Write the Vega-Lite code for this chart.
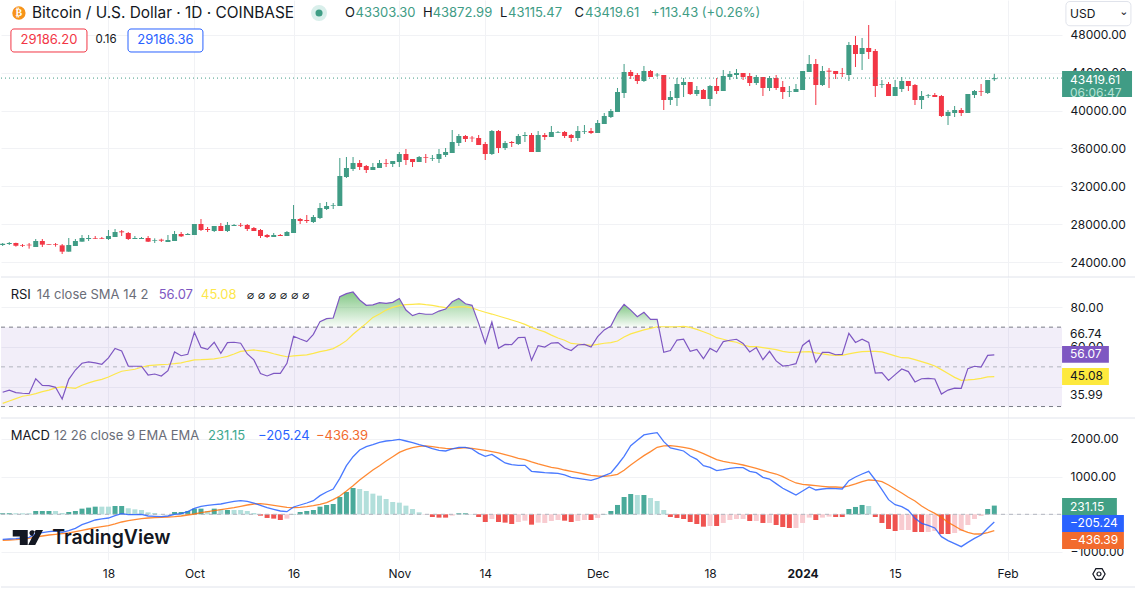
{"$schema":"https://vega.github.io/schema/vega-lite/v6.json","padding":0,"background":"white","spacing":0,"config":{"view":{"stroke":null},"font":"Inter","concat":{"spacing":0}},
"datasets":{"days":[
{"d":"2023-09-02","o":25809,"h":26021,"l":25704,"c":25950,"rsi":37.2,"sma":31.6,"macd":-664,"sig":-691,"hist":27,"tone":"u"},
{"d":"2023-09-03","o":25915,"h":26126,"l":25809,"c":26021,"rsi":38.3,"sma":32.8,"macd":-655,"sig":-682,"hist":27,"tone":"u"},
{"d":"2023-09-04","o":26021,"h":26056,"l":25634,"c":25739,"rsi":37.0,"sma":34.0,"macd":-647,"sig":-673,"hist":27,"tone":"ul"},
{"d":"2023-09-05","o":25809,"h":25915,"l":25598,"c":25739,"rsi":36.7,"sma":35.2,"macd":-629,"sig":-655,"hist":27,"tone":"ul"},
{"d":"2023-09-06","o":25845,"h":26021,"l":25423,"c":25774,"rsi":36.5,"sma":35.7,"macd":-611,"sig":-638,"hist":27,"tone":"ul"},
{"d":"2023-09-07","o":25598,"h":26443,"l":25598,"c":26232,"rsi":44.0,"sma":36.5,"macd":-514,"sig":-602,"hist":88,"tone":"u"},
{"d":"2023-09-08","o":26232,"h":26443,"l":25598,"c":25845,"rsi":40.7,"sma":37.5,"macd":-487,"sig":-576,"hist":88,"tone":"u"},
{"d":"2023-09-09","o":25915,"h":25915,"l":25845,"c":25845,"rsi":40.5,"sma":38.3,"macd":-461,"sig":-549,"hist":88,"tone":"u"},
{"d":"2023-09-10","o":25880,"h":26021,"l":25634,"c":25809,"rsi":39.7,"sma":39.4,"macd":-443,"sig":-531,"hist":88,"tone":"ul"},
{"d":"2023-09-11","o":25774,"h":25915,"l":24860,"c":25106,"rsi":33.8,"sma":39.9,"macd":-478,"sig":-514,"hist":35,"tone":"ul"},
{"d":"2023-09-12","o":25106,"h":26548,"l":25106,"c":25809,"rsi":43.7,"sma":39.5,"macd":-434,"sig":-496,"hist":62,"tone":"u"},
{"d":"2023-09-13","o":25704,"h":26443,"l":25704,"c":26232,"rsi":48.4,"sma":39.2,"macd":-372,"sig":-461,"hist":88,"tone":"u"},
{"d":"2023-09-14","o":26161,"h":26865,"l":26161,"c":26548,"rsi":51.8,"sma":40.7,"macd":-275,"sig":-425,"hist":150,"tone":"u"},
{"d":"2023-09-15","o":26443,"h":26865,"l":26232,"c":26548,"rsi":52.5,"sma":41.9,"macd":-213,"sig":-390,"hist":177,"tone":"u"},
{"d":"2023-09-16","o":26548,"h":26759,"l":26443,"c":26478,"rsi":52.0,"sma":42.9,"macd":-151,"sig":-354,"hist":203,"tone":"u"},
{"d":"2023-09-17","o":26548,"h":26654,"l":26443,"c":26478,"rsi":51.3,"sma":43.7,"macd":-124,"sig":-328,"hist":203,"tone":"ul"},
{"d":"2023-09-18","o":26443,"h":27392,"l":26337,"c":26759,"rsi":54.5,"sma":44.9,"macd":-98,"sig":-301,"hist":203,"tone":"ul"},
{"d":"2023-09-19","o":26654,"h":27498,"l":26654,"c":27181,"rsi":59.3,"sma":46.4,"macd":-36,"sig":-257,"hist":221,"tone":"u"},
{"d":"2023-09-20","o":27252,"h":27392,"l":26759,"c":27146,"rsi":58.0,"sma":47.8,"macd":17,"sig":-204,"hist":221,"tone":"u"},
{"d":"2023-09-21","o":27076,"h":27181,"l":26337,"c":26443,"rsi":50.4,"sma":48.3,"macd":-9,"sig":-169,"hist":159,"tone":"ul"},
{"d":"2023-09-22","o":26443,"h":26759,"l":26443,"c":26548,"rsi":50.3,"sma":48.8,"macd":-9,"sig":-142,"hist":132,"tone":"ul"},
{"d":"2023-09-23","o":26443,"h":26654,"l":26443,"c":26548,"rsi":50.3,"sma":49.8,"macd":0,"sig":-116,"hist":115,"tone":"ul"},
{"d":"2023-09-24","o":26548,"h":26759,"l":26126,"c":26161,"rsi":45.9,"sma":50.6,"macd":-45,"sig":-98,"hist":53,"tone":"ul"},
{"d":"2023-09-25","o":26267,"h":26513,"l":26021,"c":26337,"rsi":46.4,"sma":50.9,"macd":-54,"sig":-89,"hist":35,"tone":"ul"},
{"d":"2023-09-26","o":26372,"h":26478,"l":26126,"c":26267,"rsi":45.4,"sma":51.1,"macd":-62,"sig":-80,"hist":5,"tone":"ul"},
{"d":"2023-09-27","o":26126,"h":26865,"l":26126,"c":26337,"rsi":48.1,"sma":51.3,"macd":-45,"sig":-71,"hist":5,"tone":"ul"},
{"d":"2023-09-28","o":26232,"h":27287,"l":26232,"c":26970,"rsi":57.5,"sma":51.6,"macd":0,"sig":-62,"hist":62,"tone":"u"},
{"d":"2023-09-29","o":26970,"h":27181,"l":26654,"c":26724,"rsi":55.6,"sma":52.0,"macd":17,"sig":-45,"hist":62,"tone":"u"},
{"d":"2023-09-30","o":26865,"h":27076,"l":26865,"c":26970,"rsi":56.3,"sma":52.8,"macd":70,"sig":-18,"hist":88,"tone":"u"},
{"d":"2023-10-01","o":26865,"h":28025,"l":26865,"c":28025,"rsi":67.4,"sma":53.5,"macd":159,"sig":8,"hist":150,"tone":"u"},
{"d":"2023-10-02","o":28025,"h":28553,"l":27287,"c":27392,"rsi":59.8,"sma":53.6,"macd":212,"sig":44,"hist":150,"tone":"u"},
{"d":"2023-10-03","o":27498,"h":27709,"l":27181,"c":27392,"rsi":58.8,"sma":53.8,"macd":238,"sig":70,"hist":88,"tone":"ul"},
{"d":"2023-10-04","o":27287,"h":27814,"l":27181,"c":27814,"rsi":62.4,"sma":54.0,"macd":256,"sig":97,"hist":150,"tone":"u"},
{"d":"2023-10-05","o":27814,"h":28131,"l":27287,"c":27287,"rsi":56.8,"sma":54.6,"macd":274,"sig":123,"hist":132,"tone":"ul"},
{"d":"2023-10-06","o":27287,"h":28236,"l":27181,"c":27920,"rsi":62.2,"sma":55.3,"macd":309,"sig":150,"hist":115,"tone":"u"},
{"d":"2023-10-07","o":27814,"h":28025,"l":27814,"c":27920,"rsi":62.4,"sma":56.5,"macd":345,"sig":177,"hist":115,"tone":"ul"},
{"d":"2023-10-08","o":27920,"h":28131,"l":27709,"c":27849,"rsi":61.9,"sma":57.8,"macd":362,"sig":212,"hist":115,"tone":"ul"},
{"d":"2023-10-09","o":27920,"h":28025,"l":27287,"c":27498,"rsi":56.5,"sma":58.2,"macd":345,"sig":247,"hist":88,"tone":"ul"},
{"d":"2023-10-10","o":27603,"h":27709,"l":27287,"c":27287,"rsi":53.5,"sma":58.5,"macd":300,"sig":274,"hist":35,"tone":"ul"},
{"d":"2023-10-11","o":27392,"h":27498,"l":26548,"c":26759,"rsi":46.6,"sma":58.0,"macd":238,"sig":283,"hist":-36,"tone":"d"},
{"d":"2023-10-12","o":26865,"h":26970,"l":26548,"c":26654,"rsi":45.4,"sma":57.5,"macd":177,"sig":265,"hist":-97,"tone":"d"},
{"d":"2023-10-13","o":26654,"h":27076,"l":26654,"c":26865,"rsi":46.7,"sma":56.6,"macd":132,"sig":238,"hist":-115,"tone":"d"},
{"d":"2023-10-14","o":26865,"h":26970,"l":26759,"c":26759,"rsi":46.7,"sma":55.8,"macd":88,"sig":212,"hist":-151,"tone":"d"},
{"d":"2023-10-15","o":26759,"h":27287,"l":26759,"c":27181,"rsi":51.8,"sma":55.1,"macd":70,"sig":185,"hist":-115,"tone":"dl"},
{"d":"2023-10-16","o":27076,"h":30030,"l":27076,"c":28553,"rsi":65.4,"sma":55.5,"macd":194,"sig":177,"hist":9,"tone":"u"},
{"d":"2023-10-17","o":28553,"h":28658,"l":28025,"c":28342,"rsi":64.0,"sma":55.8,"macd":247,"sig":185,"hist":62,"tone":"u"},
{"d":"2023-10-18","o":28447,"h":28975,"l":28131,"c":28342,"rsi":62.7,"sma":56.0,"macd":300,"sig":203,"hist":88,"tone":"u"},
{"d":"2023-10-19","o":28236,"h":28975,"l":28131,"c":28764,"rsi":66.4,"sma":56.8,"macd":362,"sig":230,"hist":115,"tone":"u"},
{"d":"2023-10-20","o":28658,"h":30241,"l":28553,"c":29713,"rsi":72.8,"sma":57.7,"macd":495,"sig":265,"hist":203,"tone":"u"},
{"d":"2023-10-21","o":29608,"h":30346,"l":29502,"c":29924,"rsi":74.3,"sma":58.3,"macd":592,"sig":309,"hist":247,"tone":"u"},
{"d":"2023-10-22","o":29960,"h":30241,"l":29608,"c":30030,"rsi":74.6,"sma":59.2,"macd":672,"sig":389,"hist":274,"tone":"u"},
{"d":"2023-10-23","o":29924,"h":34989,"l":29924,"c":33090,"rsi":85.4,"sma":61.0,"macd":955,"sig":486,"hist":460,"tone":"u"},
{"d":"2023-10-24","o":32984,"h":35094,"l":32879,"c":33934,"rsi":86.9,"sma":63.2,"macd":1291,"sig":619,"hist":592,"tone":"u"},
{"d":"2023-10-25","o":33827,"h":35094,"l":33617,"c":34461,"rsi":87.7,"sma":66.4,"macd":1530,"sig":760,"hist":699,"tone":"u"},
{"d":"2023-10-26","o":34461,"h":34777,"l":33722,"c":34039,"rsi":83.7,"sma":69.2,"macd":1707,"sig":911,"hist":672,"tone":"ul"},
{"d":"2023-10-27","o":34144,"h":34250,"l":33405,"c":33722,"rsi":81.0,"sma":71.9,"macd":1796,"sig":1044,"hist":619,"tone":"ul"},
{"d":"2023-10-28","o":33722,"h":34461,"l":33722,"c":34039,"rsi":81.2,"sma":74.9,"macd":1849,"sig":1176,"hist":548,"tone":"ul"},
{"d":"2023-10-29","o":33933,"h":34777,"l":33933,"c":34461,"rsi":82.3,"sma":76.6,"macd":1911,"sig":1291,"hist":495,"tone":"ul"},
{"d":"2023-10-30","o":34461,"h":34883,"l":34039,"c":34390,"rsi":82.0,"sma":78.6,"macd":1946,"sig":1415,"hist":407,"tone":"ul"},
{"d":"2023-10-31","o":34355,"h":34672,"l":34039,"c":34672,"rsi":82.5,"sma":80.0,"macd":1964,"sig":1530,"hist":327,"tone":"ul"},
{"d":"2023-11-01","o":34566,"h":35621,"l":34039,"c":35410,"rsi":84.4,"sma":80.8,"macd":1990,"sig":1645,"hist":309,"tone":"ul"},
{"d":"2023-11-02","o":35410,"h":35938,"l":34250,"c":34777,"rsi":78.6,"sma":81.3,"macd":1946,"sig":1716,"hist":230,"tone":"ul"},
{"d":"2023-11-03","o":34883,"h":34883,"l":34039,"c":34566,"rsi":75.8,"sma":81.5,"macd":1902,"sig":1769,"hist":141,"tone":"ul"},
{"d":"2023-11-04","o":34566,"h":35199,"l":34566,"c":35094,"rsi":77.0,"sma":81.7,"macd":1849,"sig":1805,"hist":53,"tone":"ul"},
{"d":"2023-11-05","o":35094,"h":35410,"l":34461,"c":35024,"rsi":76.5,"sma":81.3,"macd":1805,"sig":1814,"hist":-9,"tone":"dl"},
{"d":"2023-11-06","o":34919,"h":35305,"l":34672,"c":34988,"rsi":76.5,"sma":81.0,"macd":1743,"sig":1796,"hist":-71,"tone":"d"},
{"d":"2023-11-07","o":34883,"h":35938,"l":34461,"c":35410,"rsi":78.1,"sma":80.3,"macd":1698,"sig":1769,"hist":-88,"tone":"d"},
{"d":"2023-11-08","o":35305,"h":36043,"l":35094,"c":35621,"rsi":79.1,"sma":79.8,"macd":1681,"sig":1752,"hist":-88,"tone":"d"},
{"d":"2023-11-09","o":35516,"h":37942,"l":35516,"c":36676,"rsi":82.8,"sma":80.0,"macd":1734,"sig":1743,"hist":-35,"tone":"dl"},
{"d":"2023-11-10","o":36571,"h":37520,"l":36254,"c":37309,"rsi":84.4,"sma":80.2,"macd":1778,"sig":1752,"hist":27,"tone":"u"},
{"d":"2023-11-11","o":37309,"h":37415,"l":36676,"c":36993,"rsi":81.8,"sma":80.2,"macd":1778,"sig":1769,"hist":27,"tone":"u"},
{"d":"2023-11-12","o":37133,"h":37309,"l":36676,"c":37063,"rsi":81.0,"sma":79.7,"macd":1734,"sig":1752,"hist":5,"tone":"ul"},
{"d":"2023-11-13","o":37098,"h":37415,"l":36360,"c":36360,"rsi":71.9,"sma":78.5,"macd":1619,"sig":1725,"hist":-71,"tone":"d"},
{"d":"2023-11-14","o":36465,"h":36676,"l":34777,"c":35410,"rsi":61.9,"sma":77.5,"macd":1539,"sig":1698,"hist":-204,"tone":"d"},
{"d":"2023-11-15","o":35410,"h":37942,"l":35305,"c":37837,"rsi":72.6,"sma":76.6,"macd":1592,"sig":1663,"hist":-124,"tone":"dl"},
{"d":"2023-11-16","o":37837,"h":37942,"l":35516,"c":36043,"rsi":59.3,"sma":75.6,"macd":1477,"sig":1628,"hist":-204,"tone":"d"},
{"d":"2023-11-17","o":36043,"h":36782,"l":35832,"c":36571,"rsi":61.3,"sma":74.6,"macd":1362,"sig":1583,"hist":-221,"tone":"d"},
{"d":"2023-11-18","o":36676,"h":36782,"l":36148,"c":36571,"rsi":61.2,"sma":73.6,"macd":1318,"sig":1539,"hist":-257,"tone":"d"},
{"d":"2023-11-19","o":36465,"h":37520,"l":36360,"c":37309,"rsi":64.7,"sma":72.6,"macd":1300,"sig":1486,"hist":-204,"tone":"dl"},
{"d":"2023-11-20","o":37309,"h":37731,"l":36676,"c":37415,"rsi":64.9,"sma":71.4,"macd":1300,"sig":1451,"hist":-169,"tone":"dl"},
{"d":"2023-11-21","o":37415,"h":37626,"l":35621,"c":35621,"rsi":53.3,"sma":69.9,"macd":1141,"sig":1389,"hist":-275,"tone":"d"},
{"d":"2023-11-22","o":35621,"h":37837,"l":35621,"c":37415,"rsi":60.7,"sma":68.7,"macd":1123,"sig":1336,"hist":-221,"tone":"dl"},
{"d":"2023-11-23","o":37415,"h":37626,"l":36887,"c":37204,"rsi":60.0,"sma":67.6,"macd":1106,"sig":1291,"hist":-230,"tone":"dl"},
{"d":"2023-11-24","o":37204,"h":38364,"l":37204,"c":37731,"rsi":62.0,"sma":66.0,"macd":1097,"sig":1247,"hist":-177,"tone":"dl"},
{"d":"2023-11-25","o":37661,"h":37837,"l":37626,"c":37731,"rsi":62.2,"sma":64.5,"macd":1088,"sig":1221,"hist":-151,"tone":"dl"},
{"d":"2023-11-26","o":37731,"h":37837,"l":37098,"c":37309,"rsi":59.5,"sma":63.4,"macd":1044,"sig":1176,"hist":-169,"tone":"d"},
{"d":"2023-11-27","o":37415,"h":37520,"l":36676,"c":37098,"rsi":58.2,"sma":61.8,"macd":982,"sig":1141,"hist":-204,"tone":"d"},
{"d":"2023-11-28","o":37098,"h":38364,"l":36782,"c":37837,"rsi":61.0,"sma":61.5,"macd":955,"sig":1106,"hist":-177,"tone":"dl"},
{"d":"2023-11-29","o":37767,"h":38470,"l":37520,"c":37837,"rsi":61.3,"sma":61.2,"macd":929,"sig":1070,"hist":-151,"tone":"dl"},
{"d":"2023-11-30","o":37837,"h":38153,"l":37520,"c":37626,"rsi":60.0,"sma":60.8,"macd":902,"sig":1035,"hist":-151,"tone":"d"},
{"d":"2023-12-01","o":37626,"h":38997,"l":37626,"c":38681,"rsi":65.2,"sma":61.3,"macd":955,"sig":1017,"hist":-97,"tone":"dl"},
{"d":"2023-12-02","o":38575,"h":39736,"l":38575,"c":39420,"rsi":68.6,"sma":61.9,"macd":1026,"sig":1008,"hist":9,"tone":"u"},
{"d":"2023-12-03","o":39314,"h":40158,"l":39208,"c":39947,"rsi":70.6,"sma":62.2,"macd":1097,"sig":1026,"hist":88,"tone":"u"},
{"d":"2023-12-04","o":39841,"h":42374,"l":39841,"c":41952,"rsi":77.1,"sma":63.0,"macd":1309,"sig":1061,"hist":248,"tone":"u"},
{"d":"2023-12-05","o":41846,"h":44906,"l":41319,"c":44062,"rsi":81.5,"sma":65.0,"macd":1539,"sig":1168,"hist":460,"tone":"u"},
{"d":"2023-12-06","o":44062,"h":44273,"l":43323,"c":43640,"rsi":78.6,"sma":66.6,"macd":1822,"sig":1309,"hist":539,"tone":"u"},
{"d":"2023-12-07","o":43745,"h":43956,"l":42796,"c":43112,"rsi":75.3,"sma":67.6,"macd":1964,"sig":1433,"hist":513,"tone":"ul"},
{"d":"2023-12-08","o":43112,"h":44695,"l":43007,"c":44167,"rsi":77.5,"sma":68.6,"macd":2106,"sig":1557,"hist":513,"tone":"u"},
{"d":"2023-12-09","o":44167,"h":44273,"l":43534,"c":43534,"rsi":73.9,"sma":69.4,"macd":2141,"sig":1663,"hist":433,"tone":"ul"},
{"d":"2023-12-10","o":43710,"h":43956,"l":43534,"c":43781,"rsi":73.9,"sma":70.2,"macd":2167,"sig":1778,"hist":354,"tone":"ul"},
{"d":"2023-12-11","o":43745,"h":43745,"l":40052,"c":41108,"rsi":57.3,"sma":70.2,"macd":1929,"sig":1814,"hist":115,"tone":"ul"},
{"d":"2023-12-12","o":41108,"h":42057,"l":40580,"c":41424,"rsi":58.2,"sma":70.1,"macd":1760,"sig":1822,"hist":-71,"tone":"d"},
{"d":"2023-12-13","o":41319,"h":43429,"l":40475,"c":42796,"rsi":63.5,"sma":70.2,"macd":1725,"sig":1805,"hist":-97,"tone":"d"},
{"d":"2023-12-14","o":42690,"h":43429,"l":41424,"c":43007,"rsi":63.9,"sma":70.4,"macd":1681,"sig":1778,"hist":-124,"tone":"d"},
{"d":"2023-12-15","o":43006,"h":43006,"l":41635,"c":41740,"rsi":57.8,"sma":69.9,"macd":1548,"sig":1743,"hist":-204,"tone":"d"},
{"d":"2023-12-16","o":41740,"h":42584,"l":41529,"c":42162,"rsi":58.8,"sma":68.9,"macd":1460,"sig":1681,"hist":-257,"tone":"d"},
{"d":"2023-12-17","o":42162,"h":42268,"l":41213,"c":41213,"rsi":54.1,"sma":67.7,"macd":1291,"sig":1610,"hist":-328,"tone":"d"},
{"d":"2023-12-18","o":41213,"h":42690,"l":40474,"c":42584,"rsi":59.3,"sma":66.4,"macd":1247,"sig":1530,"hist":-310,"tone":"dl"},
{"d":"2023-12-19","o":42584,"h":43428,"l":41740,"c":42057,"rsi":57.5,"sma":64.7,"macd":1159,"sig":1451,"hist":-310,"tone":"d"},
{"d":"2023-12-20","o":42057,"h":44273,"l":42057,"c":43639,"rsi":62.7,"sma":63.9,"macd":1185,"sig":1406,"hist":-230,"tone":"dl"},
{"d":"2023-12-21","o":43534,"h":44167,"l":43217,"c":43850,"rsi":63.4,"sma":63.0,"macd":1221,"sig":1371,"hist":-151,"tone":"dl"},
{"d":"2023-12-22","o":43745,"h":44378,"l":43323,"c":43956,"rsi":63.9,"sma":62.4,"macd":1238,"sig":1344,"hist":-124,"tone":"dl"},
{"d":"2023-12-23","o":43956,"h":43956,"l":43217,"c":43534,"rsi":61.8,"sma":61.0,"macd":1238,"sig":1309,"hist":-124,"tone":"dl"},
{"d":"2023-12-24","o":43639,"h":43956,"l":42584,"c":42901,"rsi":57.5,"sma":60.2,"macd":1141,"sig":1265,"hist":-177,"tone":"d"},
{"d":"2023-12-25","o":42901,"h":43745,"l":42690,"c":43534,"rsi":59.7,"sma":60.2,"macd":1106,"sig":1221,"hist":-177,"tone":"dl"},
{"d":"2023-12-26","o":43534,"h":43534,"l":41529,"c":42373,"rsi":53.6,"sma":59.7,"macd":982,"sig":1168,"hist":-230,"tone":"d"},
{"d":"2023-12-27","o":42373,"h":43639,"l":42057,"c":43428,"rsi":57.8,"sma":59.2,"macd":937,"sig":1114,"hist":-230,"tone":"dl"},
{"d":"2023-12-28","o":43428,"h":43745,"l":42162,"c":42373,"rsi":53.0,"sma":58.7,"macd":814,"sig":1070,"hist":-284,"tone":"d"},
{"d":"2023-12-29","o":42479,"h":43112,"l":41213,"c":41951,"rsi":50.4,"sma":57.8,"macd":690,"sig":999,"hist":-337,"tone":"d"},
{"d":"2023-12-30","o":41987,"h":42584,"l":41424,"c":42057,"rsi":50.8,"sma":57.3,"macd":601,"sig":911,"hist":-363,"tone":"d"},
{"d":"2023-12-31","o":41951,"h":42795,"l":41951,"c":42268,"rsi":51.6,"sma":57.3,"macd":513,"sig":831,"hist":-363,"tone":"dl"},
{"d":"2024-01-01","o":42162,"h":44167,"l":42162,"c":44167,"rsi":60.8,"sma":57.5,"macd":619,"sig":796,"hist":-230,"tone":"dl"},
{"d":"2024-01-02","o":44061,"h":45855,"l":44061,"c":44906,"rsi":63.4,"sma":57.7,"macd":725,"sig":778,"hist":-88,"tone":"dl"},
{"d":"2024-01-03","o":44906,"h":45433,"l":40580,"c":42690,"rsi":52.3,"sma":57.0,"macd":645,"sig":760,"hist":-151,"tone":"d"},
{"d":"2024-01-04","o":42690,"h":44695,"l":42584,"c":44167,"rsi":57.3,"sma":56.5,"macd":672,"sig":743,"hist":-88,"tone":"dl"},
{"d":"2024-01-05","o":44202,"h":44484,"l":42373,"c":44097,"rsi":57.3,"sma":56.0,"macd":690,"sig":725,"hist":-62,"tone":"dl"},
{"d":"2024-01-06","o":44167,"h":44167,"l":43323,"c":43850,"rsi":56.1,"sma":55.8,"macd":681,"sig":725,"hist":-71,"tone":"d"},
{"d":"2024-01-07","o":43956,"h":44484,"l":43534,"c":43886,"rsi":56.3,"sma":55.8,"macd":672,"sig":716,"hist":-71,"tone":"d"},
{"d":"2024-01-08","o":43745,"h":47227,"l":43112,"c":46910,"rsi":66.9,"sma":56.5,"macd":893,"sig":752,"hist":141,"tone":"u"},
{"d":"2024-01-09","o":46910,"h":47860,"l":44589,"c":45961,"rsi":62.3,"sma":57.2,"macd":991,"sig":805,"hist":195,"tone":"u"},
{"d":"2024-01-10","o":45961,"h":47649,"l":44273,"c":46594,"rsi":63.9,"sma":57.7,"macd":1070,"sig":867,"hist":248,"tone":"u"},
{"d":"2024-01-11","o":46594,"h":49020,"l":45433,"c":46172,"rsi":62.3,"sma":57.8,"macd":1141,"sig":911,"hist":221,"tone":"ul"},
{"d":"2024-01-12","o":46277,"h":46488,"l":41424,"c":42584,"rsi":46.9,"sma":57.8,"macd":911,"sig":902,"hist":-71,"tone":"d"},
{"d":"2024-01-13","o":42725,"h":43217,"l":42373,"c":42795,"rsi":47.1,"sma":57.5,"macd":654,"sig":867,"hist":-230,"tone":"d"},
{"d":"2024-01-14","o":42795,"h":43006,"l":41529,"c":41529,"rsi":43.2,"sma":56.5,"macd":389,"sig":778,"hist":-390,"tone":"d"},
{"d":"2024-01-15","o":41529,"h":43217,"l":41529,"c":42479,"rsi":46.1,"sma":55.5,"macd":256,"sig":672,"hist":-443,"tone":"d"},
{"d":"2024-01-16","o":42268,"h":43534,"l":41951,"c":43112,"rsi":48.9,"sma":54.6,"macd":203,"sig":566,"hist":-416,"tone":"dl"},
{"d":"2024-01-17","o":43112,"h":43112,"l":42057,"c":42584,"rsi":47.6,"sma":54.5,"macd":106,"sig":451,"hist":-416,"tone":"dl"},
{"d":"2024-01-18","o":42690,"h":42795,"l":40580,"c":41107,"rsi":42.4,"sma":53.6,"macd":-107,"sig":353,"hist":-469,"tone":"d"},
{"d":"2024-01-19","o":41107,"h":42057,"l":40158,"c":41529,"rsi":44.0,"sma":52.6,"macd":-239,"sig":221,"hist":-469,"tone":"d"},
{"d":"2024-01-20","o":41529,"h":41740,"l":41318,"c":41600,"rsi":44.2,"sma":51.6,"macd":-293,"sig":115,"hist":-469,"tone":"dl"},
{"d":"2024-01-21","o":41635,"h":41846,"l":41424,"c":41424,"rsi":43.9,"sma":50.4,"macd":-363,"sig":26,"hist":-443,"tone":"dl"},
{"d":"2024-01-22","o":41529,"h":41635,"l":39314,"c":39419,"rsi":36.3,"sma":48.6,"macd":-593,"sig":-80,"hist":-523,"tone":"d"},
{"d":"2024-01-23","o":39419,"h":40052,"l":38470,"c":39841,"rsi":38.3,"sma":46.7,"macd":-700,"sig":-213,"hist":-523,"tone":"d"},
{"d":"2024-01-24","o":39736,"h":40474,"l":39314,"c":40052,"rsi":39.3,"sma":44.7,"macd":-779,"sig":-310,"hist":-496,"tone":"dl"},
{"d":"2024-01-25","o":40052,"h":40263,"l":39419,"c":39736,"rsi":39.2,"sma":43.2,"macd":-859,"sig":-416,"hist":-443,"tone":"dl"},
{"d":"2024-01-26","o":39736,"h":41740,"l":39736,"c":41740,"rsi":49.1,"sma":43.4,"macd":-744,"sig":-478,"hist":-284,"tone":"dl"},
{"d":"2024-01-27","o":41635,"h":42162,"l":41318,"c":42057,"rsi":50.3,"sma":43.7,"macd":-638,"sig":-523,"hist":-124,"tone":"dl"},
{"d":"2024-01-28","o":42057,"h":42795,"l":41529,"c":41987,"rsi":49.9,"sma":44.2,"macd":-549,"sig":-523,"hist":-45,"tone":"dl"},
{"d":"2024-01-29","o":41846,"h":43217,"l":41740,"c":43217,"rsi":55.8,"sma":44.9,"macd":-372,"sig":-487,"hist":141,"tone":"u"},
{"d":"2024-01-30","o":43303.30,"h":43872.99,"l":43115.47,"c":43419.61,"rsi":56.07,"sma":45.08,"macd":-205.24,"sig":-436.39,"hist":231.15,"tone":"u"}
],
"overbought":[
{"d":"2023-10-19T13:30:00Z","rsi":70,"seg":"a"},{"d":"2023-10-20","rsi":72.8,"seg":"a"},{"d":"2023-10-21","rsi":74.3,"seg":"a"},{"d":"2023-10-22","rsi":74.6,"seg":"a"},{"d":"2023-10-23","rsi":85.4,"seg":"a"},{"d":"2023-10-24","rsi":86.9,"seg":"a"},{"d":"2023-10-25","rsi":87.7,"seg":"a"},{"d":"2023-10-26","rsi":83.7,"seg":"a"},{"d":"2023-10-27","rsi":81.0,"seg":"a"},{"d":"2023-10-28","rsi":81.2,"seg":"a"},{"d":"2023-10-29","rsi":82.3,"seg":"a"},{"d":"2023-10-30","rsi":82.0,"seg":"a"},{"d":"2023-10-31","rsi":82.5,"seg":"a"},{"d":"2023-11-01","rsi":84.4,"seg":"a"},{"d":"2023-11-02","rsi":78.6,"seg":"a"},{"d":"2023-11-03","rsi":75.8,"seg":"a"},{"d":"2023-11-04","rsi":77.0,"seg":"a"},{"d":"2023-11-05","rsi":76.5,"seg":"a"},{"d":"2023-11-06","rsi":76.5,"seg":"a"},{"d":"2023-11-07","rsi":78.1,"seg":"a"},{"d":"2023-11-08","rsi":79.1,"seg":"a"},{"d":"2023-11-09","rsi":82.8,"seg":"a"},{"d":"2023-11-10","rsi":84.4,"seg":"a"},{"d":"2023-11-11","rsi":81.8,"seg":"a"},{"d":"2023-11-12","rsi":81.0,"seg":"a"},{"d":"2023-11-13","rsi":71.9,"seg":"a"},{"d":"2023-11-13T04:30:00Z","rsi":70,"seg":"a"},
{"d":"2023-11-14T18:00:00Z","rsi":70,"seg":"c"},{"d":"2023-11-15","rsi":72.6,"seg":"c"},{"d":"2023-11-15T04:30:00Z","rsi":70,"seg":"c"},
{"d":"2023-12-02T17:00:00Z","rsi":70,"seg":"b"},{"d":"2023-12-03","rsi":70.6,"seg":"b"},{"d":"2023-12-04","rsi":77.1,"seg":"b"},{"d":"2023-12-05","rsi":81.5,"seg":"b"},{"d":"2023-12-06","rsi":78.6,"seg":"b"},{"d":"2023-12-07","rsi":75.3,"seg":"b"},{"d":"2023-12-08","rsi":77.5,"seg":"b"},{"d":"2023-12-09","rsi":73.9,"seg":"b"},{"d":"2023-12-10","rsi":73.9,"seg":"b"},{"d":"2023-12-10T05:30:00Z","rsi":70,"seg":"b"}
]},
"vconcat":[
{"width":1061,"height":277,"data":{"name":"days"},
"encoding":{"x":{"field":"d","type":"temporal","scale":{"type":"utc","padding":0,"domain":["2023-09-01T17:56:00Z","2024-02-09T05:46:00Z"]},"axis":{"title":null,"labels":false,"ticks":false,"domain":false,"grid":true,"gridColor":"#f1f2f5","values":[{"utc":true,"year":2023,"month":9,"date":18},{"utc":true,"year":2023,"month":10,"date":1},{"utc":true,"year":2023,"month":10,"date":16},{"utc":true,"year":2023,"month":11,"date":1},{"utc":true,"year":2023,"month":11,"date":14},{"utc":true,"year":2023,"month":12,"date":1},{"utc":true,"year":2023,"month":12,"date":18},{"utc":true,"year":2024,"month":1,"date":1},{"utc":true,"year":2024,"month":1,"date":15},{"utc":true,"year":2024,"month":2,"date":1}]}}},
"layer":[
{"mark":{"type":"rule","strokeWidth":1},"encoding":{"y":{"field":"l","type":"quantitative","scale":{"domain":[22434,51658],"nice":false,"zero":false},"axis":{"title":null,"orient":"right","values":[24000,28000,32000,36000,40000,44000,48000],"format":".2f","ticks":false,"domain":false,"grid":true,"gridColor":"#f1f2f5","labelPadding":8,"labelFontSize":12,"labelColor":"#131722","labelFont":"Inter","labelOverlap":false,"labelBound":false}},"y2":{"field":"h"},"color":{"condition":{"test":"datum.c>=datum.o","value":"#409c85"},"value":"#f23645"}}},
{"mark":{"type":"bar","size":5},"encoding":{"y":{"field":"o","type":"quantitative"},"y2":{"field":"c"},"color":{"condition":{"test":"datum.c>=datum.o","value":"#409c85"},"value":"#f23645"}}},
{"data":{"values":[{"at":"2023-09-01T17:56:00Z","to":"2024-02-09T05:46:00Z"}]},"mark":{"type":"rule","color":"#409c85","strokeDash":[1,3],"strokeWidth":1},"encoding":{"x":{"field":"at","type":"temporal"},"x2":{"field":"to"},"y":{"datum":43419.61}}},
{"data":{"values":[{"at":"2023-09-01T17:56:00Z","to":"2024-02-20T10:00:00Z"}]},"mark":{"type":"rule","color":"#e0e3eb","strokeWidth":1},"encoding":{"x":{"field":"at","type":"temporal"},"x2":{"field":"to"},"y":{"datum":22434}}},
{"data":{"values":[{"at":"2023-09-04T11:00:00Z"}]},"mark":{"type":"point","filled":true,"color":"#f7931a","size":177,"opacity":1},"encoding":{"x":{"field":"at","type":"temporal"},"y":{"datum":50286}}},
{"data":{"values":[{"at":"2023-09-04T11:00:00Z"}]},"mark":{"type":"text","text":"₿","font":"DejaVu Sans","fontSize":10,"fontWeight":700,"color":"white"},"encoding":{"x":{"field":"at","type":"temporal"},"y":{"datum":50286}}},
{"data":{"values":[{"at":"2023-09-06T10:30:00Z"}]},"mark":{"type":"text","text":"Bitcoin / U.S. Dollar · 1D · COINBASE","align":"left","font":"Inter","fontSize":15.4,"color":"#131722"},"encoding":{"x":{"field":"at","type":"temporal"},"y":{"datum":50286}}},
{"data":{"values":[{"at":"2023-10-19T20:30:00Z"}]},"mark":{"type":"point","filled":true,"color":"#d9efeb","size":254,"opacity":1},"encoding":{"x":{"field":"at","type":"temporal"},"y":{"datum":50286}}},
{"data":{"values":[{"at":"2023-10-19T20:30:00Z"}]},"mark":{"type":"point","filled":true,"color":"#3f9e85","size":50,"opacity":1},"encoding":{"x":{"field":"at","type":"temporal"},"y":{"datum":50286}}},
{"data":{"values":[{"at":"2023-10-23T19:00:00Z"}]},"mark":{"type":"text","text":"O","align":"left","font":"Inter","fontSize":13,"color":"#131722"},"encoding":{"x":{"field":"at","type":"temporal"},"y":{"datum":50286}}},
{"data":{"values":[{"at":"2023-10-25T09:00:00Z"}]},"mark":{"type":"text","text":"43303.30","align":"left","font":"Inter","fontSize":13,"color":"#409c85"},"encoding":{"x":{"field":"at","type":"temporal"},"y":{"datum":50286}}},
{"data":{"values":[{"at":"2023-11-04T14:00:00Z"}]},"mark":{"type":"text","text":"H","align":"left","font":"Inter","fontSize":13,"color":"#131722"},"encoding":{"x":{"field":"at","type":"temporal"},"y":{"datum":50286}}},
{"data":{"values":[{"at":"2023-11-06T01:00:00Z"}]},"mark":{"type":"text","text":"43872.99","align":"left","font":"Inter","fontSize":13,"color":"#409c85"},"encoding":{"x":{"field":"at","type":"temporal"},"y":{"datum":50286}}},
{"data":{"values":[{"at":"2023-11-16T05:30:00Z"}]},"mark":{"type":"text","text":"L","align":"left","font":"Inter","fontSize":13,"color":"#131722"},"encoding":{"x":{"field":"at","type":"temporal"},"y":{"datum":50286}}},
{"data":{"values":[{"at":"2023-11-17T10:30:00Z"}]},"mark":{"type":"text","text":"43115.47","align":"left","font":"Inter","fontSize":13,"color":"#409c85"},"encoding":{"x":{"field":"at","type":"temporal"},"y":{"datum":50286}}},
{"data":{"values":[{"at":"2023-11-27T12:00:00Z"}]},"mark":{"type":"text","text":"C","align":"left","font":"Inter","fontSize":13,"color":"#131722"},"encoding":{"x":{"field":"at","type":"temporal"},"y":{"datum":50286}}},
{"data":{"values":[{"at":"2023-11-29T02:00:00Z"}]},"mark":{"type":"text","text":"43419.61","align":"left","font":"Inter","fontSize":13,"color":"#409c85"},"encoding":{"x":{"field":"at","type":"temporal"},"y":{"datum":50286}}},
{"data":{"values":[{"at":"2023-12-09T02:00:00Z"}]},"mark":{"type":"text","text":"+113.43 (+0.26%)","align":"left","font":"Inter","fontSize":13,"color":"#409c85"},"encoding":{"x":{"field":"at","type":"temporal"},"y":{"datum":50286}}},
{"data":{"values":[{"at":"2023-09-03T06:00:00Z","to":"2023-09-14T18:00:00Z"}]},"mark":{"type":"rect","fill":"white","stroke":"#f23645","strokeWidth":1,"cornerRadius":3},"encoding":{"x":{"field":"at","type":"temporal"},"x2":{"field":"to"},"y":{"datum":48599},"y2":{"datum":46172}}},
{"data":{"values":[{"at":"2023-09-09T00:00:00Z"}]},"mark":{"type":"text","text":"29186.20","font":"Inter","fontSize":13,"color":"#f23645"},"encoding":{"x":{"field":"at","type":"temporal"},"y":{"datum":47386}}},
{"data":{"values":[{"at":"2023-09-17T15:00:00Z"}]},"mark":{"type":"text","text":"0.16","font":"Inter","fontSize":11.5,"color":"#131722"},"encoding":{"x":{"field":"at","type":"temporal"},"y":{"datum":47386}}},
{"data":{"values":[{"at":"2023-09-20T23:00:00Z","to":"2023-10-02T07:00:00Z"}]},"mark":{"type":"rect","fill":"white","stroke":"#2962ff","strokeWidth":1,"cornerRadius":3},"encoding":{"x":{"field":"at","type":"temporal"},"x2":{"field":"to"},"y":{"datum":48599},"y2":{"datum":46172}}},
{"data":{"values":[{"at":"2023-09-26T15:00:00Z"}]},"mark":{"type":"text","text":"29186.36","font":"Inter","fontSize":13,"color":"#2962ff"},"encoding":{"x":{"field":"at","type":"temporal"},"y":{"datum":47386}}},
{"data":{"values":[{"at":"2024-02-09T20:00:00Z","to":"2024-02-19T16:00:00Z"}]},"mark":{"type":"rect","fill":"white","stroke":"#e0e3eb","strokeWidth":1,"cornerRadius":4},"encoding":{"x":{"field":"at","type":"temporal"},"x2":{"field":"to"},"y":{"datum":51500},"y2":{"datum":48940}}},
{"data":{"values":[{"at":"2024-02-10T11:00:00Z"}]},"mark":{"type":"text","text":"USD","align":"left","font":"Inter","fontSize":12,"color":"#131722"},"encoding":{"x":{"field":"at","type":"temporal"},"y":{"datum":50233}}},
{"data":{"values":[{"at":"2024-02-18T14:00:00Z"}]},"mark":{"type":"text","text":"⌄","font":"DejaVu Sans","fontSize":11,"color":"#131722"},"encoding":{"x":{"field":"at","type":"temporal"},"y":{"datum":50400}}},
{"data":{"values":[{"at":"2024-02-09T06:00:00Z","to":"2024-02-19T20:00:00Z"}]},"mark":{"type":"rect","fill":"#409c85"},"encoding":{"x":{"field":"at","type":"temporal"},"x2":{"field":"to"},"y":{"datum":44167},"y2":{"datum":41428}}},
{"data":{"values":[{"at":"2024-02-10T11:00:00Z"}]},"mark":{"type":"text","text":"43419.61","align":"left","font":"Inter","fontSize":12,"color":"white"},"encoding":{"x":{"field":"at","type":"temporal"},"y":{"datum":43250}}},
{"data":{"values":[{"at":"2024-02-10T11:00:00Z"}]},"mark":{"type":"text","text":"06:06:47","align":"left","font":"Inter","fontSize":12,"color":"#b7e3d6"},"encoding":{"x":{"field":"at","type":"temporal"},"y":{"datum":41794}}}
]},
{"width":1061,"height":140,"data":{"name":"days"},
"encoding":{"x":{"field":"d","type":"temporal","scale":{"type":"utc","padding":0,"domain":["2023-09-01T17:56:00Z","2024-02-09T05:46:00Z"]},"axis":{"title":null,"labels":false,"ticks":false,"domain":false,"grid":true,"gridColor":"#f1f2f5","values":[{"utc":true,"year":2023,"month":9,"date":18},{"utc":true,"year":2023,"month":10,"date":1},{"utc":true,"year":2023,"month":10,"date":16},{"utc":true,"year":2023,"month":11,"date":1},{"utc":true,"year":2023,"month":11,"date":14},{"utc":true,"year":2023,"month":12,"date":1},{"utc":true,"year":2023,"month":12,"date":18},{"utc":true,"year":2024,"month":1,"date":1},{"utc":true,"year":2024,"month":1,"date":15},{"utc":true,"year":2024,"month":2,"date":1}]}}},
"layer":[
{"data":{"values":[{"at":"2023-09-01T17:56:00Z","to":"2024-02-09T05:46:00Z"}]},"mark":{"type":"rect","fill":"#7e57c2","opacity":0.1},"encoding":{"x":{"field":"at","type":"temporal"},"x2":{"field":"to"},"y":{"datum":70},"y2":{"datum":30}}},
{"data":{"values":[{"at":"2023-09-01T17:56:00Z","to":"2024-02-09T05:46:00Z"}]},"mark":{"type":"rule","color":"#787b86","strokeDash":[4,4],"strokeWidth":1},"encoding":{"x":{"field":"at","type":"temporal"},"x2":{"field":"to"},"y":{"datum":70}}},
{"data":{"values":[{"at":"2023-09-01T17:56:00Z","to":"2024-02-09T05:46:00Z"}]},"mark":{"type":"rule","color":"#b2b5be","strokeDash":[4,4],"strokeWidth":1},"encoding":{"x":{"field":"at","type":"temporal"},"x2":{"field":"to"},"y":{"datum":50}}},
{"data":{"values":[{"at":"2023-09-01T17:56:00Z","to":"2024-02-09T05:46:00Z"}]},"mark":{"type":"rule","color":"#787b86","strokeDash":[4,4],"strokeWidth":1},"encoding":{"x":{"field":"at","type":"temporal"},"x2":{"field":"to"},"y":{"datum":30}}},
{"data":{"name":"overbought"},"mark":{"type":"area","color":{"x1":0,"y1":0,"x2":0,"y2":1,"gradient":"linear","stops":[{"offset":0,"color":"#4caf50b0"},{"offset":1,"color":"#4caf5008"}]}},"encoding":{"y":{"field":"rsi","type":"quantitative"},"y2":{"datum":70},"detail":{"field":"seg"}}},
{"mark":{"type":"line","color":"#fde74c","strokeWidth":1.2},"encoding":{"y":{"field":"sma","type":"quantitative"}}},
{"mark":{"type":"line","color":"#7e57c2","strokeWidth":1.2},"encoding":{"y":{"field":"rsi","type":"quantitative","scale":{"domain":[24.23,94.76],"nice":false,"zero":false},"axis":{"title":null,"orient":"right","values":[80,60,40],"labelExpr":"datum.value==40 ? '' : format(datum.value,'.2f')","ticks":false,"domain":false,"grid":true,"gridColor":"#f1f2f5","labelPadding":8,"labelFontSize":12,"labelColor":"#131722","labelFont":"Inter","labelOverlap":false,"labelBound":false}}}},
{"data":{"values":[{"at":"2023-09-01T17:56:00Z","to":"2024-02-20T10:00:00Z"}]},"mark":{"type":"rule","color":"#e0e3eb","strokeWidth":1},"encoding":{"x":{"field":"at","type":"temporal"},"x2":{"field":"to"},"y":{"datum":24.23}}},
{"data":{"values":[{"at":"2023-09-03T05:00:00Z"}]},"mark":{"type":"text","text":"RSI","align":"left","font":"Inter","fontSize":13,"color":"#131722"},"encoding":{"x":{"field":"at","type":"temporal"},"y":{"datum":86.35}}},
{"data":{"values":[{"at":"2023-09-07T03:30:00Z"}]},"mark":{"type":"text","text":"14 close SMA 14 2","align":"left","font":"Inter","fontSize":13,"color":"#6a6d78"},"encoding":{"x":{"field":"at","type":"temporal"},"y":{"datum":86.35}}},
{"data":{"values":[{"at":"2023-09-25T14:30:00Z"}]},"mark":{"type":"text","text":"56.07","align":"left","font":"Inter","fontSize":13,"color":"#7e57c2"},"encoding":{"x":{"field":"at","type":"temporal"},"y":{"datum":86.35}}},
{"data":{"values":[{"at":"2023-10-02T00:00:00Z"}]},"mark":{"type":"text","text":"45.08","align":"left","font":"Inter","fontSize":13,"color":"#fde74c"},"encoding":{"x":{"field":"at","type":"temporal"},"y":{"datum":86.35}}},
{"data":{"values":[{"at":"2023-10-08T23:00:00Z"}]},"mark":{"type":"text","text":"⌀ ⌀ ⌀ ⌀ ⌀ ⌀","align":"left","font":"DejaVu Sans","fontSize":12,"color":"#131722"},"encoding":{"x":{"field":"at","type":"temporal"},"y":{"datum":86.35}}},
{"data":{"values":[{"at":"2024-02-10T11:00:00Z"}]},"mark":{"type":"text","text":"66.74","align":"left","font":"Inter","fontSize":12,"color":"#131722"},"encoding":{"x":{"field":"at","type":"temporal"},"y":{"datum":66.74}}},
{"data":{"values":[{"at":"2024-02-10T11:00:00Z"}]},"mark":{"type":"text","text":"35.99","align":"left","font":"Inter","fontSize":12,"color":"#131722"},"encoding":{"x":{"field":"at","type":"temporal"},"y":{"datum":35.99}}},
{"data":{"values":[{"at":"2024-02-09T06:00:00Z","to":"2024-02-16T08:00:00Z"}]},"mark":{"type":"rect","fill":"#7e57c2"},"encoding":{"x":{"field":"at","type":"temporal"},"x2":{"field":"to"},"y":{"datum":60.5},"y2":{"datum":52.1}}},
{"data":{"values":[{"at":"2024-02-10T11:00:00Z"}]},"mark":{"type":"text","text":"56.07","align":"left","font":"Inter","fontSize":12,"color":"white"},"encoding":{"x":{"field":"at","type":"temporal"},"y":{"datum":56.3}}},
{"data":{"values":[{"at":"2024-02-09T06:00:00Z","to":"2024-02-16T08:00:00Z"}]},"mark":{"type":"rect","fill":"#fde93d"},"encoding":{"x":{"field":"at","type":"temporal"},"x2":{"field":"to"},"y":{"datum":49.4},"y2":{"datum":40.9}}},
{"data":{"values":[{"at":"2024-02-10T11:00:00Z"}]},"mark":{"type":"text","text":"45.08","align":"left","font":"Inter","fontSize":12,"color":"#131722"},"encoding":{"x":{"field":"at","type":"temporal"},"y":{"datum":45.15}}}
]},
{"width":1061,"height":141,"data":{"name":"days"},
"encoding":{"x":{"field":"d","type":"temporal","scale":{"type":"utc","padding":0,"domain":["2023-09-01T17:56:00Z","2024-02-09T05:46:00Z"]},"axis":{"title":null,"ticks":false,"domain":false,"grid":true,"gridColor":"#f1f2f5","labelPadding":8,"labelFontSize":12,"labelColor":"#131722","labelFont":"Inter","labelFontWeight":{"condition":{"test":"utcyear(datum.value)==2024 && utcmonth(datum.value)==0 && utcdate(datum.value)==1","value":700},"value":400},"labelOverlap":false,"labelBound":false,"labelFlush":false,"labelExpr":"utcdate(datum.value)==1 ? (utcmonth(datum.value)==0 ? '2024' : utcFormat(datum.value,'%b')) : utcFormat(datum.value,'%-d')","values":[{"utc":true,"year":2023,"month":9,"date":18},{"utc":true,"year":2023,"month":10,"date":1},{"utc":true,"year":2023,"month":10,"date":16},{"utc":true,"year":2023,"month":11,"date":1},{"utc":true,"year":2023,"month":11,"date":14},{"utc":true,"year":2023,"month":12,"date":1},{"utc":true,"year":2023,"month":12,"date":18},{"utc":true,"year":2024,"month":1,"date":1},{"utc":true,"year":2024,"month":1,"date":15},{"utc":true,"year":2024,"month":2,"date":1}]}}},
"layer":[
{"mark":{"type":"bar","size":5},"encoding":{"y":{"field":"hist","type":"quantitative","scale":{"domain":[-1213,2530],"nice":false,"zero":false},"axis":{"title":null,"orient":"right","values":[2000,1000,0,-1000],"ticks":false,"domain":false,"grid":true,"gridColor":"#f1f2f5","labelPadding":8,"labelFontSize":12,"labelColor":"#131722","labelFont":"Inter","labelOverlap":false,"labelBound":false,"labelExpr":"datum.value==0 ? '' : replace(format(datum.value,'.2f'),'-','−')"}},"y2":{"datum":0},"color":{"field":"tone","type":"nominal","legend":null,"scale":{"domain":["u","ul","d","dl"],"range":["#4aaa9a","#b2dfdb","#ef5350","#f8cbd0"]}}}},
{"data":{"values":[{"at":"2023-09-01T17:56:00Z","to":"2024-02-09T05:46:00Z"}]},"mark":{"type":"rule","color":"#b2b5be","strokeDash":[4,4],"strokeWidth":1},"encoding":{"x":{"field":"at","type":"temporal"},"x2":{"field":"to"},"y":{"datum":0}}},
{"mark":{"type":"line","color":"#ff6d00","opacity":0.8,"strokeWidth":1.3},"encoding":{"y":{"field":"sig","type":"quantitative"}}},
{"mark":{"type":"line","color":"#2962ff","opacity":0.85,"strokeWidth":1.3},"encoding":{"y":{"field":"macd","type":"quantitative"}}},
{"data":{"values":[{"at":"2023-09-01T17:56:00Z","to":"2024-02-20T10:00:00Z"}]},"mark":{"type":"rule","color":"#e0e3eb","strokeWidth":1},"encoding":{"x":{"field":"at","type":"temporal"},"x2":{"field":"to"},"y":{"datum":-1930}}},
{"data":{"values":[{"at":"2023-09-03T05:00:00Z"}]},"mark":{"type":"text","text":"MACD","align":"left","font":"Inter","fontSize":13,"color":"#131722"},"encoding":{"x":{"field":"at","type":"temporal"},"y":{"datum":2087}}},
{"data":{"values":[{"at":"2023-09-09T18:00:00Z"}]},"mark":{"type":"text","text":"12 26 close 9 EMA EMA","align":"left","font":"Inter","fontSize":13,"color":"#6a6d78"},"encoding":{"x":{"field":"at","type":"temporal"},"y":{"datum":2087}}},
{"data":{"values":[{"at":"2023-10-03T01:30:00Z"}]},"mark":{"type":"text","text":"231.15","align":"left","font":"Inter","fontSize":13,"color":"#3fa88f"},"encoding":{"x":{"field":"at","type":"temporal"},"y":{"datum":2087}}},
{"data":{"values":[{"at":"2023-10-10T15:00:00Z"}]},"mark":{"type":"text","text":"−205.24","align":"left","font":"Inter","fontSize":13,"color":"#2962ff"},"encoding":{"x":{"field":"at","type":"temporal"},"y":{"datum":2087}}},
{"data":{"values":[{"at":"2023-10-19T09:30:00Z"}]},"mark":{"type":"text","text":"−436.39","align":"left","font":"Inter","fontSize":13,"color":"#f26b2e"},"encoding":{"x":{"field":"at","type":"temporal"},"y":{"datum":2087}}},
{"data":{"values":[{"at":"2023-09-05T19:00:00Z"}]},"mark":{"type":"point","filled":true,"opacity":1,"color":"#131722","size":900,"shape":"M-1,-.5 L0,-.5 L0,.5 L-.53,.5 L-.53,-.07 L-1,-.07 Z M.11,-.3 a.19,.19 0 1,0 .38,0 a.19,.19 0 1,0 -.38,0 Z M.53,-.5 L1.02,-.5 L.5,.5 L.03,.5 Z"},"encoding":{"x":{"field":"at","type":"temporal"},"y":{"datum":-616}}},
{"data":{"values":[{"at":"2023-09-09T12:00:00Z"}]},"mark":{"type":"text","text":"TradingView","align":"left","font":"Inter","fontSize":19.4,"fontWeight":600,"color":"#131722"},"encoding":{"x":{"field":"at","type":"temporal"},"y":{"datum":-629}}},
{"data":{"values":[{"at":"2024-02-09T06:00:00Z","to":"2024-02-17T13:00:00Z"}]},"mark":{"type":"rect","fill":"#42a085"},"encoding":{"x":{"field":"at","type":"temporal"},"x2":{"field":"to"},"y":{"datum":433},"y2":{"datum":-19}}},
{"data":{"values":[{"at":"2024-02-10T11:00:00Z"}]},"mark":{"type":"text","text":"231.15","align":"left","font":"Inter","fontSize":12,"color":"white"},"encoding":{"x":{"field":"at","type":"temporal"},"y":{"datum":207}}},
{"data":{"values":[{"at":"2024-02-09T06:00:00Z","to":"2024-02-18T14:30:00Z"}]},"mark":{"type":"rect","fill":"#2962ff"},"encoding":{"x":{"field":"at","type":"temporal"},"x2":{"field":"to"},"y":{"datum":-19},"y2":{"datum":-470}}},
{"data":{"values":[{"at":"2024-02-10T11:00:00Z"}]},"mark":{"type":"text","text":"−205.24","align":"left","font":"Inter","fontSize":12,"color":"white"},"encoding":{"x":{"field":"at","type":"temporal"},"y":{"datum":-244}}},
{"data":{"values":[{"at":"2024-02-09T06:00:00Z","to":"2024-02-18T14:30:00Z"}]},"mark":{"type":"rect","fill":"#f26b2e"},"encoding":{"x":{"field":"at","type":"temporal"},"x2":{"field":"to"},"y":{"datum":-470},"y2":{"datum":-921}}},
{"data":{"values":[{"at":"2024-02-10T11:00:00Z"}]},"mark":{"type":"text","text":"−436.39","align":"left","font":"Inter","fontSize":12,"color":"white"},"encoding":{"x":{"field":"at","type":"temporal"},"y":{"datum":-695}}},
{"data":{"values":[{"at":"2024-02-14T20:00:00Z"}]},"mark":{"type":"point","filled":false,"opacity":1,"color":"#131722","strokeWidth":1.2,"size":150,"shape":"M-.5,-.87 L.5,-.87 L1,0 L.5,.87 L-.5,.87 L-1,0 Z"},"encoding":{"x":{"field":"at","type":"temporal"},"y":{"datum":-1585}}},
{"data":{"values":[{"at":"2024-02-14T20:00:00Z"}]},"mark":{"type":"point","filled":false,"opacity":1,"color":"#131722","strokeWidth":1.2,"size":16,"shape":"circle"},"encoding":{"x":{"field":"at","type":"temporal"},"y":{"datum":-1585}}}
]}
]}
